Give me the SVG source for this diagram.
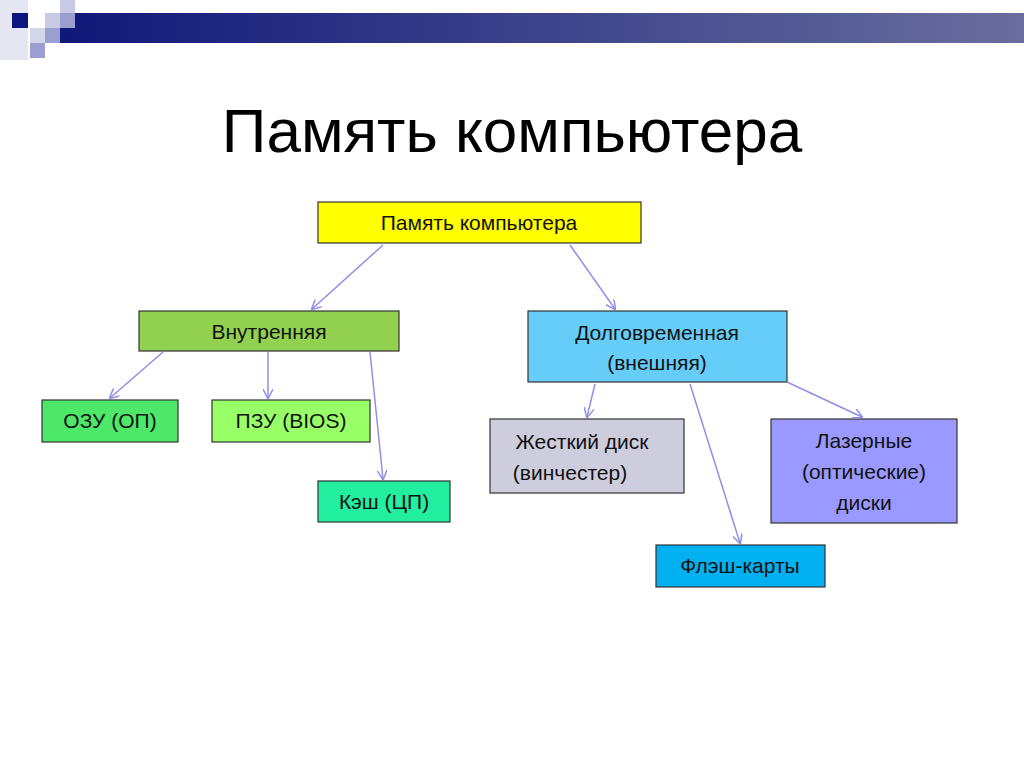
<svg xmlns="http://www.w3.org/2000/svg" width="1024" height="767" viewBox="0 0 1024 767">
<defs>
<linearGradient id="bar" x1="0" x2="1" y1="0" y2="0"><stop offset="0" stop-color="#101878"/><stop offset="1" stop-color="#6a6e9e"/></linearGradient>
<marker id="ah" viewBox="0 0 10 10" refX="9" refY="5" markerWidth="10" markerHeight="10" orient="auto" markerUnits="userSpaceOnUse"><path d="M0,0 L10,5 L0,10" fill="none" stroke="#8f8fe6" stroke-width="1.5"/></marker>
<style>
.n{stroke:#333;stroke-width:1.2}
.t{font-family:"Liberation Sans",Arial,sans-serif;font-size:21px;fill:#111;text-anchor:middle}
.c line{stroke:#8f8fe6;stroke-width:1.5;marker-end:url(#ah)}
</style>
</defs>
<rect width="1024" height="767" fill="#fff"/>
<g id="decor">
<rect x="0" y="0" width="28" height="60" fill="#e4e6f2"/>
<rect x="60" y="13" width="964" height="30" fill="url(#bar)"/>
<rect x="60" y="0" width="15" height="13" fill="#c8cae4"/>
<rect x="45" y="13" width="15" height="15" fill="#c8cae4"/>
<rect x="60" y="13" width="15" height="15" fill="#9a9ed0"/>
<rect x="12" y="13" width="16" height="15" fill="#0c1480"/>
<rect x="30" y="28" width="15" height="15" fill="#d4d6ea"/>
<rect x="45" y="28" width="15" height="15" fill="#9a9ed0"/>
<rect x="30" y="43" width="15" height="15" fill="#9a9ed0"/>
</g>
<text x="512" y="152" font-family="'Liberation Sans',Arial,sans-serif" font-size="62" text-anchor="middle" fill="#000">Память компьютера</text>
<g id="root"><rect class="n" x="318" y="202" width="323" height="41" fill="#ffff00"/><text class="t" x="479" y="230">Память компьютера</text></g>
<g id="internal"><rect class="n" x="139" y="311" width="260" height="40" fill="#92d050"/><text class="t" x="269" y="339">Внутренняя</text></g>
<g id="external"><rect class="n" x="528" y="311" width="259" height="71" fill="#66ccf8"/><text class="t" x="657" y="340">Долговременная</text><text class="t" x="657" y="370">(внешняя)</text></g>
<g id="ozu"><rect class="n" x="42" y="400" width="136" height="42" fill="#4de86a"/><text class="t" x="110" y="428">ОЗУ (ОП)</text></g>
<g id="pzu"><rect class="n" x="212" y="400" width="158" height="42" fill="#99ff66"/><text class="t" x="291" y="428">ПЗУ (BIOS)</text></g>
<g id="cache"><rect class="n" x="318" y="481" width="132" height="41" fill="#22f0a0"/><text class="t" x="384" y="509">Кэш (ЦП)</text></g>
<g id="hdd"><rect class="n" x="490" y="419" width="194" height="74" fill="#cdcdde"/><text class="t" x="582" y="449">Жесткий диск</text><text class="t" x="570" y="480">(винчестер)</text></g>
<g id="optical"><rect class="n" x="771" y="419" width="186" height="104" fill="#9999ff"/><text class="t" x="864" y="448">Лазерные</text><text class="t" x="864" y="479">(оптические)</text><text class="t" x="864" y="510">диски</text></g>
<g id="flash"><rect class="n" x="656" y="545" width="169" height="42" fill="#00b0f0"/><text class="t" x="740" y="573">Флэш-карты</text></g>
<g id="connectors" class="c">
<line x1="383" y1="245" x2="312" y2="309"/>
<line x1="570" y1="245" x2="615" y2="309"/>
<line x1="163" y1="352" x2="110" y2="398"/>
<line x1="268" y1="352" x2="268" y2="398"/>
<line x1="370" y1="352" x2="383" y2="479"/>
<line x1="595" y1="384" x2="587" y2="417"/>
<line x1="690" y1="384" x2="740" y2="543"/>
<line x1="787" y1="382" x2="862" y2="417"/>
</g>
</svg>
